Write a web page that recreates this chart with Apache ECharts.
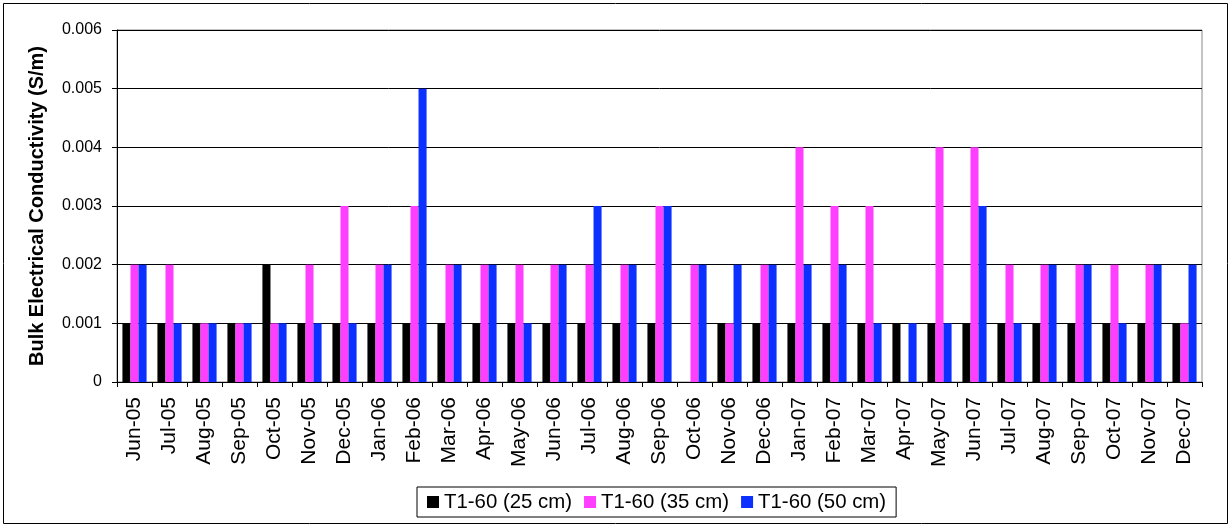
<!DOCTYPE html>
<html>
<head>
<meta charset="utf-8">
<script src="https://cdn.jsdelivr.net/npm/echarts@6/dist/echarts.min.js"></script>
<style>
html,body{margin:0;padding:0;background:#fff;}
#c{width:1231px;height:527px;}
</style>
</head>
<body>
<div id="c"></div>
<script>
const categories = ['Jun-05','Jul-05','Aug-05','Sep-05','Oct-05','Nov-05','Dec-05','Jan-06','Feb-06','Mar-06','Apr-06','May-06','Jun-06','Jul-06','Aug-06','Sep-06','Oct-06','Nov-06','Dec-06','Jan-07','Feb-07','Mar-07','Apr-07','May-07','Jun-07','Jul-07','Aug-07','Sep-07','Oct-07','Nov-07','Dec-07'];
const s25 = [0.001,0.001,0.001,0.001,0.002,0.001,0.001,0.001,0.001,0.001,0.001,0.001,0.001,0.001,0.001,0.001,0,0.001,0.001,0.001,0.001,0.001,0.001,0.001,0.001,0.001,0.001,0.001,0.001,0.001,0.001];
const s35 = [0.002,0.002,0.001,0.001,0.001,0.002,0.003,0.002,0.003,0.002,0.002,0.002,0.002,0.002,0.002,0.003,0.002,0.001,0.002,0.004,0.003,0.003,0,0.004,0.004,0.002,0.002,0.002,0.002,0.002,0.001];
const s50 = [0.002,0.001,0.001,0.001,0.001,0.001,0.001,0.002,0.005,0.002,0.002,0.001,0.002,0.003,0.002,0.003,0.002,0.002,0.002,0.002,0.002,0.001,0.001,0.001,0.003,0.001,0.002,0.002,0.001,0.002,0.002];
const seriesNames = ['T1-60 (25 cm)','T1-60 (35 cm)','T1-60 (50 cm)'];
const yTicks = [0,0.001,0.002,0.003,0.004,0.005,0.006];

const font = 'Liberation Sans, Arial, sans-serif';
const chart = echarts.init(document.getElementById('c'));
const mk = (name, data, color) => ({
  name, type: 'bar', data, barGap: '0%', barCategoryGap: '31%',
  itemStyle: { color }
});
chart.setOption({
  animation: false,
  textStyle: { fontFamily: font },
  graphic: [{
    type: 'rect', shape: { x: 3.5, y: 3.5, width: 1224, height: 520 },
    style: { fill: null, stroke: '#000', lineWidth: 1 }, z: -1
  }],
  grid: { left: 117, top: 30, right: 29, bottom: 145, show: true, borderColor: '#888', borderWidth: 1 },
  legend: {
    bottom: 10, left: 417, orient: 'horizontal',
    borderColor: '#000', borderWidth: 1, padding: [5, 10, 5, 10],
    itemWidth: 12, itemHeight: 12, itemGap: 12, icon: 'rect',
    textStyle: { fontSize: 20.4, color: '#000', fontFamily: font },
    data: seriesNames
  },
  xAxis: {
    type: 'category', data: categories,
    axisLine: { lineStyle: { color: '#000' } },
    axisTick: { show: true, interval: 0, length: 5, lineStyle: { color: '#000' } },
    axisLabel: { interval: 0, rotate: 90, fontSize: 21, color: '#000', margin: 15, fontFamily: font }
  },
  yAxis: {
    type: 'value', min: 0, max: 0.006, interval: 0.001,
    name: 'Bulk Electrical Conductivity (S/m)', nameLocation: 'middle', nameRotate: 90, nameGap: 70,
    nameTextStyle: { fontSize: 20, fontWeight: 'bold', color: '#000', fontFamily: font },
    axisLine: { show: true, lineStyle: { color: '#000' } },
    axisTick: { show: true, length: 5, lineStyle: { color: '#000' } },
    axisLabel: { fontSize: 16, color: '#000', margin: 15, fontFamily: font,
      formatter: v => v === 0 ? '0' : v.toFixed(3) },
    splitLine: { lineStyle: { color: '#000', width: 1 } }
  },
  series: [
    mk(seriesNames[0], s25, '#000000'),
    mk(seriesNames[1], s35, '#ff3fff'),
    mk(seriesNames[2], s50, '#0c30ff')
  ]
});
</script>
</body>
</html>
